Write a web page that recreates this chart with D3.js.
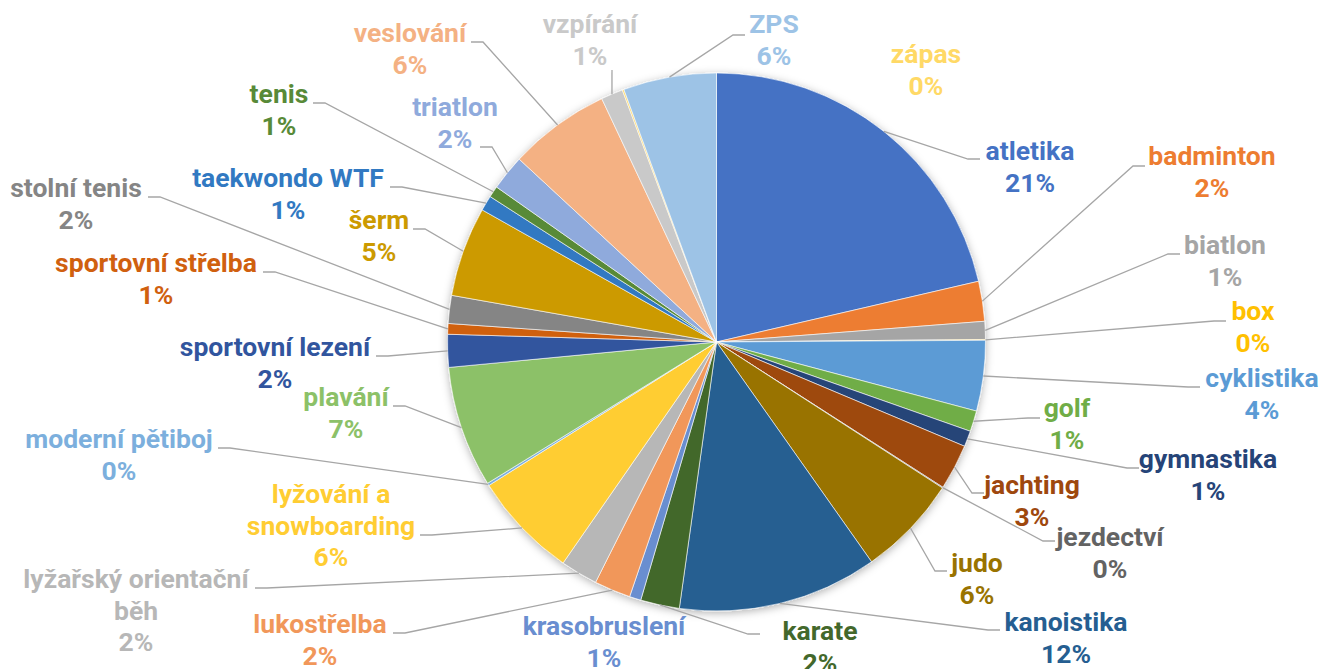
<!DOCTYPE html>
<html>
<head>
<meta charset="utf-8">
<script src="https://cdn.jsdelivr.net/npm/d3@7"></script>
<style>
  html, body { margin: 0; padding: 0; background: #fff; }
  svg { display: block; }
  text { font-family: Roboto, "Noto Sans", sans-serif; font-weight: 700; }
</style>
</head>
<body>
<div id="chart"></div>
<script>
// sports, clockwise from 12 o'clock
const categories = ["atletika", "badminton", "biatlon", "box", "cyklistika", "golf", "gymnastika",
  "jachting", "jezdectví", "judo", "kanoistika", "karate", "krasobruslení", "lukostřelba",
  "lyžařský orientační běh", "lyžování a snowboarding", "moderní pětiboj", "plavání",
  "sportovní lezení", "sportovní střelba", "stolní tenis", "šerm", "taekwondo WTF", "tenis",
  "triatlon", "veslování", "vzpírání", "zápas", "ZPS"];

// share of each sport
const shares = [21.4, 2.4, 1.08, 0.05, 4.24, 1.25, 0.95,
  2.75, 0.05, 6.1, 12.0, 2.34, 0.69, 2.19,
  2.24, 6.4, 0.15, 7.3,
  1.97, 0.64, 1.68, 5.4, 0.92, 0.68,
  2.13, 6.1, 1.32, 0.1, 5.6];

const colors = ["#4472C4", "#ED7D31", "#A5A5A5", "#FFC000", "#5B9BD5", "#70AD47", "#264478",
  "#9E480E", "#636363", "#997300", "#255E91", "#43682B", "#698ED0", "#F1975A",
  "#B7B7B7", "#FFCD33", "#7CAFDD", "#8CC168",
  "#31559E", "#D0600F", "#858585", "#CC9A00", "#3179C2", "#588A38",
  "#8FAADC", "#F4B183", "#C9C9C9", "#FFD966", "#9DC3E6"];

// label placement: [center x, first baseline y, leader elbow x, elbow y, side]
// side: 1 label right of elbow, -1 label left, 0 vertical end, null no leader
const labelLayout = [
  [1030, 160, 968, 159, 1], [1212, 165, 1133, 166, 1], [1225, 254, 1168, 254, 1],
  [1253, 320, 1214, 321, 1], [1262, 387, 1188, 387, 1], [1067, 417, 1028, 418, 1],
  [1208, 468, 1127, 468, 1], [1032, 494, 972, 493, 1], [1110, 546, 1043, 541, 1],
  [977, 572, 935, 571, 1], [1066, 631, 988, 630, 1], [820, 640, 748, 634, 1],
  [604, 635, null, null, null], [320, 633, 405, 633, -1], [136, 588, 267, 588, -1],
  [331, 503, 432, 535, -1], [119, 448, 230, 448, -1], [346, 406, 405, 406, -1],
  [275, 356, 388, 356, -1], [156, 272, 275, 272, -1], [76, 197, 160, 197, -1],
  [379, 229, 425, 229, -1], [288, 187, 402, 187, -1], [279, 103, 325, 103, -1],
  [455, 116, 492, 147, -1], [410, 42, 483, 42, -1], [590, 33, 612, 70, 0],
  [926, 63, null, null, null], [774, 33, 733, 35, 1]
];

const width = 1322, height = 669;
const cx = 716.5, cy = 342, radius = 269;
const lineGap = 31.6;

const svg = d3.select("#chart").append("svg")
  .attr("width", width)
  .attr("height", height);

const defs = svg.append("defs");
const shadow = defs.append("filter")
  .attr("id", "pieShadow")
  .attr("x", "-10%").attr("y", "-10%")
  .attr("width", "120%").attr("height", "120%");
shadow.append("feDropShadow")
  .attr("dx", 0).attr("dy", 2)
  .attr("stdDeviation", 4)
  .attr("flood-color", "#000")
  .attr("flood-opacity", 0.3);

const data = categories.map((name, i) => ({ name, value: shares[i], color: colors[i], pos: labelLayout[i] }));
const total = d3.sum(shares);
const pct = d3.format(".0%");

const pie = d3.pie().sort(null).value(d => d.value);
const arc = d3.arc().innerRadius(0).outerRadius(radius);
const arcs = pie(data);

const g = svg.append("g").attr("transform", `translate(${cx},${cy})`);

g.append("g")
  .attr("filter", "url(#pieShadow)")
  .selectAll("path")
  .data(arcs)
  .join("path")
  .attr("d", arc)
  .attr("fill", d => d.data.color)
  .attr("stroke", "#fff")
  .attr("stroke-width", 0.6);

// leader lines
const leaders = arcs.filter(d => d.data.pos[4] !== null);
svg.append("g")
  .selectAll("polyline")
  .data(leaders)
  .join("polyline")
  .attr("fill", "none")
  .attr("stroke", "#A6A6A6")
  .attr("stroke-width", 1.3)
  .attr("points", d => {
    const mid = (d.startAngle + d.endAngle) / 2;
    const sx = cx + radius * Math.sin(mid);
    const sy = cy - radius * Math.cos(mid);
    const [, , ex, ey, side] = d.data.pos;
    const pts = [[sx, sy], [ex, ey]];
    if (side !== 0) pts.push([ex + side * 12, ey]);
    return pts.map(p => p.join(",")).join(" ");
  });

// split long names onto two lines at the last space
function nameLines(name) {
  if (name.length <= 20) return [name];
  const k = name.lastIndexOf(" ");
  return [name.slice(0, k), name.slice(k + 1)];
}

const labels = svg.append("g")
  .selectAll("text")
  .data(arcs)
  .join("text")
  .attr("text-anchor", "middle")
  .attr("font-size", 26.5)
  .attr("fill", d => d.data.color)
  .attr("x", d => d.data.pos[0])
  .attr("y", d => d.data.pos[1]);

labels.each(function(d) {
  const lines = nameLines(d.data.name).concat([pct(d.data.value / total)]);
  d3.select(this).selectAll("tspan")
    .data(lines)
    .join("tspan")
    .attr("x", d.data.pos[0])
    .attr("y", (t, i) => d.data.pos[1] + i * lineGap)
    .text(t => t);
});
</script>
</body>
</html>
